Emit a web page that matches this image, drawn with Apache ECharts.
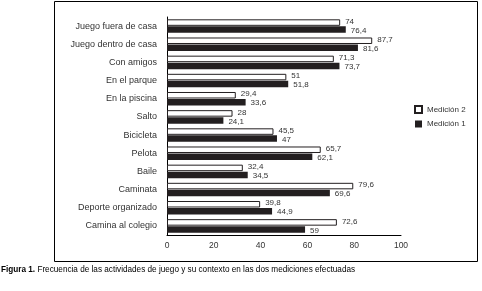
<!DOCTYPE html>
<html>
<head>
<meta charset="utf-8">
<script src="https://cdn.jsdelivr.net/npm/echarts@6/dist/echarts.min.js"></script>
<style>
  html, body { margin: 0; padding: 0; background: #fff; }
  #chart { width: 482px; height: 291px; }
</style>
</head>
<body>
<div id="chart"></div>
<script>
// datos
const categorias = [
  "Juego fuera de casa", "Juego dentro de casa", "Con amigos", "En el parque",
  "En la piscina", "Salto", "Bicicleta", "Pelota", "Baile", "Caminata",
  "Deporte organizado", "Camina al colegio"
];
const medicion2 = [74, 87.7, 71.3, 51, 29.4, 28, 45.5, 65.7, 32.4, 79.6, 39.8, 72.6];
const medicion1 = [76.4, 81.6, 73.7, 51.8, 33.6, 24.1, 47, 62.1, 34.5, 69.6, 44.9, 59];
const ticksX = [0, 20, 40, 60, 80, 100];

const fuente = "Liberation Sans, Arial, sans-serif";
const coma = p => String(p.value).replace(".", ",");

const chart = echarts.init(document.getElementById("chart"));
chart.setOption({
  animation: false,
  textStyle: { fontFamily: fuente },
  grid: { left: 167, right: 81, top: 17, bottom: 56 },
  legend: {
    orient: "vertical",
    left: 409, top: 100,
    itemWidth: 7, itemHeight: 7, itemGap: 6,
    icon: "rect",
    textStyle: { fontSize: 8, color: "#333", fontFamily: fuente },
    data: ["Medición 2", "Medición 1"]
  },
  xAxis: {
    type: "value",
    min: ticksX[0], max: ticksX[ticksX.length - 1], interval: 20,
    axisLine: { show: true, lineStyle: { color: "#000", width: 1 } },
    axisTick: { show: false },
    splitLine: { show: false },
    axisLabel: { fontSize: 8.5, color: "#333", margin: 6 }
  },
  yAxis: {
    type: "category",
    inverse: true,
    data: categorias,
    axisLine: { show: true, lineStyle: { color: "#000", width: 1 } },
    axisTick: { show: false },
    axisLabel: { fontSize: 9, color: "#333", margin: 10 }
  },
  series: [
    {
      name: "Medición 2",
      type: "bar",
      data: medicion2,
      barWidth: 6.5,
      barGap: "8%",
      itemStyle: { color: "#fff", borderColor: "#231f20", borderWidth: 1 },
      label: { show: true, position: "right", distance: 5, offset: [0, -1], fontSize: 8, color: "#333", formatter: coma }
    },
    {
      name: "Medición 1",
      type: "bar",
      data: medicion1,
      barWidth: 6.5,
      itemStyle: { color: "#231f20" },
      label: { show: true, position: "right", distance: 5, offset: [0, 1], fontSize: 8, color: "#333", formatter: coma }
    }
  ],
  graphic: [
    {
      type: "rect",
      shape: { x: 54.5, y: 1.5, width: 423, height: 260 },
      style: { fill: "none", stroke: "#000", lineWidth: 1 },
      silent: true
    },
    {
      type: "text",
      left: 1, top: 266,
      style: {
        text: "{b|Figura 1.} Frecuencia de las actividades de juego y su contexto en las dos mediciones efectuadas",
        fontSize: 8.2, fill: "#000", fontFamily: fuente,
        rich: { b: { fontWeight: "bold", fontSize: 8.2, fontFamily: fuente } }
      }
    }
  ]
});
</script>
</body>
</html>
